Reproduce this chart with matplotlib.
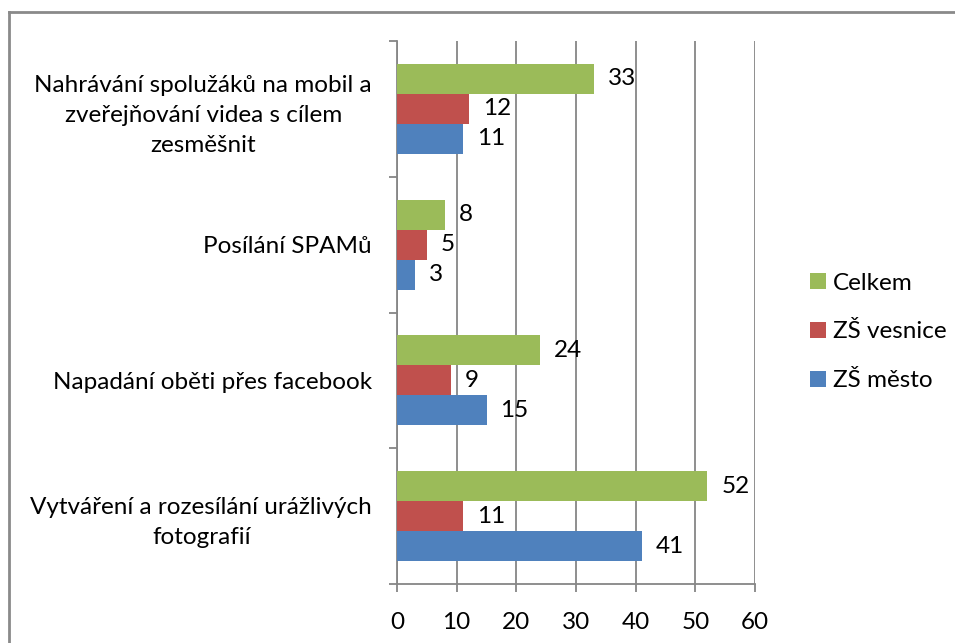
import matplotlib
matplotlib.use("Agg")
import matplotlib.pyplot as plt
from matplotlib.lines import Line2D
from matplotlib.patches import Patch

plt.rcParams['font.family'] = ['Lato', 'DejaVu Sans']

categories = [
    "Vytváření a rozesílání urážlivých\nfotografií",
    "Napadání oběti přes facebook",
    "Posílání SPAMů",
    "Nahrávání spolužáků na mobil a\nzveřejňování videa s cílem\nzesměšnit",
]
series_names = ["ZŠ město", "ZŠ vesnice", "Celkem"]
zs_mesto = [41, 15, 3, 11]
zs_vesnice = [11, 9, 5, 12]
celkem = [52, 24, 8, 33]
colors = ["#4F81BD", "#C0504D", "#9BBB59"]
x_ticks = [0, 10, 20, 30, 40, 50, 60]

W, H = 955, 643
fig = plt.figure(figsize=(W / 100, H / 100), dpi=100)
ax = fig.add_axes([397 / W, 1 - 584 / H, (755 - 397) / W, (584 - 41) / H])

bh = 0.221
offsets = [-bh, 0, bh]
values = [zs_mesto, zs_vesnice, celkem]
fs = 17.5
for vals, off, col, name in zip(values, offsets, colors, series_names):
    ys = [i + off for i in range(len(categories))]
    ax.barh(ys, vals, height=bh, color=col, edgecolor='none', label=name, zorder=3)
    for y, v in zip(ys, vals):
        ax.annotate(str(v), (v, y), xytext=(14, 0), textcoords='offset pixels',
                    va='center', ha='left', fontsize=fs, color='black')

ax.set_xlim(0, 60)
ax.set_ylim(-0.5, 3.5)
ax.set_xticks(x_ticks)
ax.set_xticklabels([str(t) for t in x_ticks], fontsize=fs)
ax.set_yticks(range(len(categories)))
ax.set_yticklabels(categories, fontsize=fs, ha='right', multialignment='center', linespacing=1.55)
ax.tick_params(axis='y', length=0, pad=18)
ax.set_yticks([-0.5, 0.5, 1.5, 2.5, 3.5], minor=True)
ax.tick_params(axis='y', which='minor', length=6, color='#868686', width=1.3, direction='out')
ax.tick_params(axis='x', length=6, color='#868686', width=1.3, direction='out', pad=14)

grid_col = '#868686'
ax.xaxis.grid(True, color=grid_col, linewidth=1.3, zorder=0)
ax.set_axisbelow(True)
for s in ['top', 'right']:
    ax.spines[s].set_visible(False)
for s in ['left', 'bottom']:
    ax.spines[s].set_color(grid_col)
    ax.spines[s].set_linewidth(1.3)

handles = [Patch(facecolor=c, edgecolor='none', label=n) for c, n in zip(colors, series_names)][::-1]
fig.legend(handles=handles, loc='center left', bbox_to_anchor=(788 / W, 1 - 332 / H),
           frameon=False, fontsize=fs, handlelength=0.65, handleheight=0.65,
           handletextpad=0.3, labelspacing=1.15)

# outer border (top and left only visible)
fig.add_artist(Line2D([8.5 / W, 1], [1 - 11.5 / H, 1 - 11.5 / H], transform=fig.transFigure,
                      color='#8a8a8a', linewidth=2))
fig.add_artist(Line2D([8.5 / W, 8.5 / W], [0, 1 - 11.5 / H], transform=fig.transFigure,
                      color='#8a8a8a', linewidth=2))

fig.savefig("out.png", dpi=100, facecolor='white')
